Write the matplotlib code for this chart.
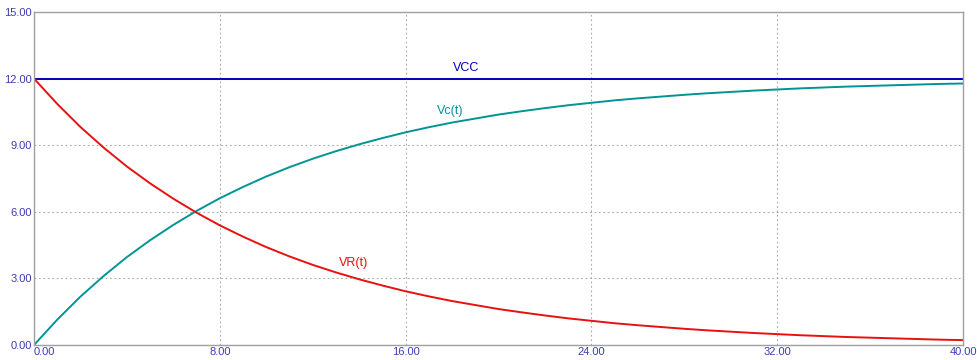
import numpy as np
import matplotlib
matplotlib.use('Agg')
import matplotlib.pyplot as plt

# time axis (ms) and values
t = list(range(0, 41))
vc = [0.00, 1.14, 2.18, 3.11, 3.96, 4.72, 5.41, 6.04, 6.61, 7.12,
      7.59, 8.01, 8.39, 8.73, 9.04, 9.32, 9.58, 9.81, 10.02, 10.20,
      10.38, 10.53, 10.67, 10.80, 10.91, 11.02, 11.11, 11.19, 11.27, 11.34,
      11.40, 11.46, 11.51, 11.56, 11.60, 11.64, 11.67, 11.70, 11.73, 11.76,
      11.78]
vr = [12.00, 10.86, 9.82, 8.89, 8.04, 7.28, 6.59, 5.96, 5.39, 4.88,
      4.41, 3.99, 3.61, 3.27, 2.96, 2.68, 2.42, 2.19, 1.98, 1.80,
      1.62, 1.47, 1.33, 1.20, 1.09, 0.98, 0.89, 0.81, 0.73, 0.66,
      0.60, 0.54, 0.49, 0.44, 0.40, 0.36, 0.33, 0.30, 0.27, 0.24,
      0.22]
vcc = 12.0
xticks = [0, 8, 16, 24, 32, 40]
yticks = [0, 3, 6, 9, 12, 15]

plt.rcParams['font.family'] = ['Liberation Sans', 'DejaVu Sans']

fig = plt.figure(figsize=(9.78, 3.6), dpi=100)
ax = fig.add_axes([34/978, 15/360, 929/978, 333/360])

ax.axhline(vcc, color='#0000c0', lw=1.4)
ax.plot(t, vc, color='#009494', lw=1.4)
ax.plot(t, vr, color='#e81010', lw=1.4)

ax.text(18.6, 12.48, 'VCC', color='#0000c0', fontsize=9, ha='center', va='center')
ax.text(17.9, 10.54, 'Vc(t)', color='#009494', fontsize=9, ha='center', va='center')
ax.text(13.76, 3.69, 'VR(t)', color='#e81010', fontsize=9, ha='center', va='center')

ax.set_xlim(0, 40)
ax.set_ylim(0, 15)
ax.set_xticks(xticks)
ax.set_yticks(yticks)
ax.set_xticklabels(['%.2f' % v for v in xticks])
ax.set_yticklabels(['%.2f' % v for v in yticks])
ax.xaxis.get_ticklabels()[0].set_ha('left')
ax.tick_params(length=0, labelsize=8, labelcolor='#3c3cb4', pad=1.5)
ax.grid(True, color='#a8a8a8', linestyle=(0, (1.5, 2.5)), lw=0.8)
for s in ax.spines.values():
    s.set_color('#a0a0a0')
    s.set_linewidth(1.0)

fig.savefig('out.png', dpi=100, facecolor='white')
